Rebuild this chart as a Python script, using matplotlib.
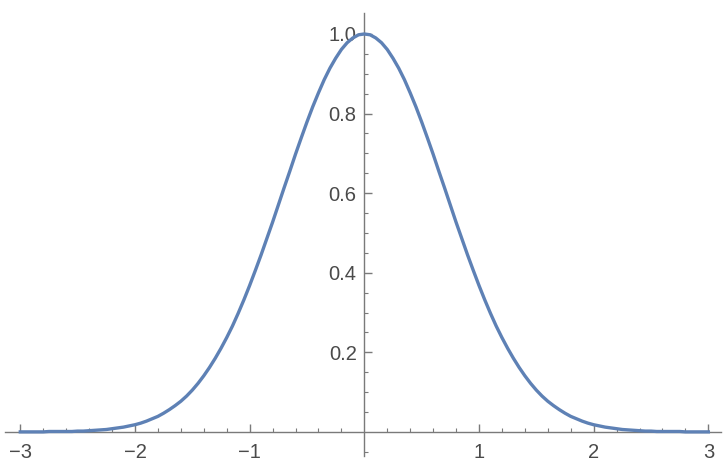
import numpy as np
import matplotlib
matplotlib.use('Agg')
import matplotlib.pyplot as plt
from matplotlib.ticker import FixedLocator

# values, x from -3 to 3 in steps of 0.05
x_vals = np.linspace(-3, 3, 121)
y_vals = [0.000, 0.000, 0.000, 0.000, 0.000, 0.001, 0.001, 0.001, 0.001, 0.001,
          0.002, 0.002, 0.003, 0.004, 0.005, 0.006, 0.008, 0.010, 0.012, 0.015,
          0.018, 0.022, 0.027, 0.033, 0.039, 0.047, 0.056, 0.066, 0.077, 0.090,
          0.105, 0.122, 0.141, 0.162, 0.185, 0.210, 0.237, 0.266, 0.298, 0.332,
          0.368, 0.406, 0.445, 0.486, 0.527, 0.570, 0.613, 0.655, 0.698, 0.739,
          0.779, 0.817, 0.852, 0.885, 0.914, 0.939, 0.961, 0.978, 0.990, 0.998,
          1.000,
          0.998, 0.990, 0.978, 0.961, 0.939, 0.914, 0.885, 0.852, 0.817, 0.779,
          0.739, 0.698, 0.655, 0.613, 0.570, 0.527, 0.486, 0.445, 0.406, 0.368,
          0.332, 0.298, 0.266, 0.237, 0.210, 0.185, 0.162, 0.141, 0.122, 0.105,
          0.090, 0.077, 0.066, 0.056, 0.047, 0.039, 0.033, 0.027, 0.022, 0.018,
          0.015, 0.012, 0.010, 0.008, 0.006, 0.005, 0.004, 0.003, 0.002, 0.002,
          0.001, 0.001, 0.001, 0.001, 0.001, 0.000, 0.000, 0.000, 0.000, 0.000]

x_ticks = [-3, -2, -1, 1, 2, 3]
x_labels = ['\u22123', '\u22122', '\u22121', '1', '2', '3']
y_ticks = [0.2, 0.4, 0.6, 0.8, 1.0]
y_labels = ['0.2', '0.4', '0.6', '0.8', '1.0']

line_color = '#5E81B5'
axis_color = '#7a7a7a'
label_color = '#4a4a4a'

fig = plt.figure(figsize=(7.26, 4.72), dpi=100)
ax = fig.add_axes([0, 0, 1, 1])
ax.patch.set_alpha(0)

ax.plot(x_vals, y_vals, color=line_color, lw=2.4, zorder=3, clip_on=False)

ax.set_xlim(-3.177, 3.154)
ax.set_ylim(-0.1008, 1.0854)

for side in ['top', 'right']:
    ax.spines[side].set_visible(False)
ax.spines['bottom'].set_position(('data', 0))
ax.spines['left'].set_position(('data', 0))
ax.spines['bottom'].set_bounds(-3.133, 3.111)
ax.spines['left'].set_bounds(-0.061, 1.052)
for side in ['bottom', 'left']:
    ax.spines[side].set_color(axis_color)
    ax.spines[side].set_linewidth(1.0)

ax.xaxis.set_major_locator(FixedLocator(x_ticks))
ax.set_xticklabels(x_labels)
minor_x = [v / 5 for v in range(-15, 16) if v % 5 != 0]
ax.xaxis.set_minor_locator(FixedLocator(minor_x))

ax.yaxis.set_major_locator(FixedLocator(y_ticks))
ax.set_yticklabels(y_labels)
minor_y = [-0.05, 0.05, 0.1, 0.15, 0.25, 0.3, 0.35, 0.45, 0.5, 0.55,
           0.65, 0.7, 0.75, 0.85, 0.9, 0.95]
ax.yaxis.set_minor_locator(FixedLocator(minor_y))

ax.tick_params(axis='x', which='major', direction='in', length=5.5, width=1,
               color=axis_color, pad=8, labelsize=14.5, labelcolor=label_color)
ax.tick_params(axis='x', which='minor', direction='in', length=3, width=0.8,
               color=axis_color)
ax.tick_params(axis='y', which='major', direction='in', length=5.5, width=1,
               color=axis_color, pad=5.5, labelsize=14.5, labelcolor=label_color)
ax.tick_params(axis='y', which='minor', direction='in', length=3, width=0.8,
               color=axis_color)

for lab in ax.get_xticklabels() + ax.get_yticklabels():
    lab.set_fontfamily('Liberation Sans')

fig.savefig('out.png', dpi=100)
